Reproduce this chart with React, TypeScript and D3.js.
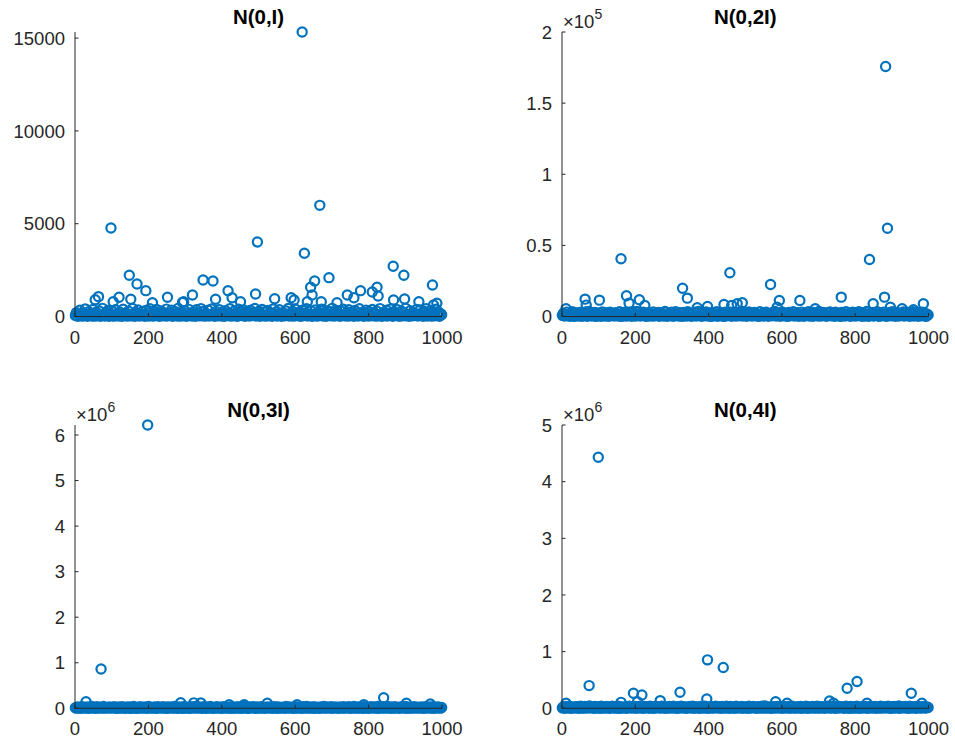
import React from 'react';
import * as d3 from 'd3';

// ---------- DATA ----------
const titles = ['N(0,I)', 'N(0,2I)', 'N(0,3I)', 'N(0,4I)'];
const xTicks = [0, 200, 400, 600, 800, 1000];
const yTicks1 = [0, 5000, 10000, 15000];
const yTicks2 = [0, 50000, 100000, 150000, 200000];
const yTicks3 = [0, 1e6, 2e6, 3e6, 4e6, 5e6, 6e6];
const yTicks4 = [0, 1e6, 2e6, 3e6, 4e6, 5e6];
const yTickLabels1 = ['0', '5000', '10000', '15000'];
const yTickLabels2 = ['0', '0.5', '1', '1.5', '2'];
const yTickLabels3 = ['0', '1', '2', '3', '4', '5', '6'];
const yTickLabels4 = ['0', '1', '2', '3', '4', '5'];
const exponents = ['', '5', '6', '6'];
const yMax = [15330, 200000, 6.22e6, 5e6];

// visible isolated points: [index, value]
const outliers1: [number, number][] = [
  [619, 15330], [667, 5990], [98, 4770], [497, 4018], [625, 3409], [867, 2707], [896, 2222],
  [148, 2222], [692, 2093], [349, 1969], [376, 1915], [653, 1915], [169, 1753], [974, 1699],
  [642, 1575], [823, 1575], [193, 1392], [778, 1392], [810, 1321], [417, 1392], [646, 1160],
  [826, 1106], [492, 1213], [320, 1160], [742, 1160], [64, 1070], [252, 1035], [120, 1035],
  [152, 928], [898, 944], [589, 1014], [428, 1014], [544, 960], [383, 928], [760, 1014],
  [104, 798], [986, 712], [937, 798], [714, 744], [671, 798], [211, 744], [296, 798],
  [597, 890], [451, 798], [977, 620], [633, 798], [868, 890], [55, 900], [293, 760],
];
const outliers2: [number, number][] = [
  [883, 175700], [888, 62000], [161, 40600], [839, 40100], [458, 30800], [569, 22500],
  [329, 19900], [342, 12900], [63, 12200], [102, 11500], [176, 14600], [211, 11800],
  [762, 13600], [880, 13600], [649, 11300], [593, 11300], [492, 9650], [478, 8950],
  [442, 8460], [986, 8950], [849, 8950], [183, 9400], [226, 7750], [11, 5400], [691, 5400],
  [928, 5400], [397, 7050], [369, 6100], [896, 6550], [959, 4700], [587, 6550], [66, 8000],
  [463, 7800],
];
const outliers3: [number, number][] = [
  [198, 6.22e6], [71, 863000], [841, 233000], [30, 145000], [288, 123000], [324, 120000],
  [343, 115000], [524, 110000], [903, 110000], [968, 95000], [420, 80000], [461, 80000],
  [605, 78000], [787, 80000],
];
const outliers4: [number, number][] = [
  [99, 4.43e6], [397, 855000], [440, 720000], [805, 472000], [778, 354000], [74, 401000],
  [322, 283000], [953, 265000], [195, 265000], [218, 236000], [395, 165000], [268, 135000],
  [730, 130000], [583, 117000], [206, 117000], [161, 105000], [741, 88000], [832, 88000],
  [614, 88000], [982, 88000], [11, 88000],
];

// dense near-zero points, evenly spread over the 1000 indices
const band1 = [
  60, 210, 15, 120, 340, 35, 90, 25, 180, 410, 50, 10, 260, 75, 140, 30, 380, 95, 20, 230,
  45, 160, 300, 15, 70, 440, 110, 25, 190, 55, 320, 10, 135, 85, 270, 40, 20, 360, 65, 150,
  30, 240, 100, 15, 395, 50, 175, 80, 20, 290, 125, 60, 35, 430, 145, 10, 205, 70, 350, 25,
  115, 45, 265, 90, 15, 330, 55, 195, 30, 420, 80, 135, 20, 250, 65, 375, 40, 160, 10, 305,
  85, 220, 35, 140, 400, 25, 75, 185, 50, 345, 15, 105, 275, 60, 30, 440, 125, 20, 215, 95,
  40, 315, 70, 15, 170, 385, 55, 130, 25, 245, 90, 10, 360, 65, 200, 35, 425, 110, 45, 280,
  20, 150, 75, 335, 30, 100, 405, 55, 190, 15, 260, 85, 40, 370, 120, 25, 230, 60, 10, 310,
  95, 45, 180, 415, 20, 140, 70, 295, 35, 165, 10, 390, 80, 225, 50, 130, 355, 15, 105, 265,
  60, 25, 340, 115, 45, 200, 435, 30, 155, 75, 285, 15, 120, 380, 55, 240, 20, 90, 325, 40,
  175, 65, 10, 410, 135, 50, 255, 25, 100, 365, 70, 15, 210, 145, 40, 300, 85, 430, 30, 160,
  55, 275, 20, 120, 395, 65, 185, 35, 240, 10, 340, 95, 50, 170, 420, 25, 130, 75, 290, 15,
  110, 45, 355, 80, 20, 225, 60, 145, 400, 30, 195, 90, 15, 310, 55, 125, 260, 35, 440, 70,
  25, 165, 330, 50, 105, 15, 280, 75, 390, 40, 140, 205, 20, 360, 85, 45, 250, 115, 10, 320,
  65, 185, 30, 415, 95, 55, 235, 15, 150, 345, 70, 25, 270, 120, 40, 380, 60, 175, 20, 295,
  100, 35, 425, 80, 15, 215, 130, 50, 335, 25, 160, 90, 405, 45, 10, 255, 110, 65, 370, 30,
  140, 20, 285, 75, 190, 40, 440, 55, 125, 15, 310, 95, 35, 230, 165, 60, 385, 25, 105, 350,
  50, 200, 15, 275, 85, 415, 30, 145, 65, 325, 20, 180, 110, 40, 395, 70, 245, 10, 155, 90,
];
// in hundreds
const band2Hundreds = [
  8, 22, 3, 15, 31, 5, 11, 2, 19, 34, 6, 1, 26, 9, 14, 4, 29, 12, 2, 24,
  5, 17, 33, 2, 8, 35, 13, 3, 21, 7, 28, 1, 16, 10, 25, 5, 2, 32, 7, 18,
  4, 27, 12, 2, 30, 6, 19, 9, 3, 26, 14, 7, 4, 34, 15, 1, 23, 8, 31, 3,
  13, 5, 29, 11, 2, 33, 6, 20, 4, 35, 9, 16, 3, 24, 7, 30, 5, 18, 1, 27,
  10, 23, 4, 15, 32, 3, 8, 21, 6, 28, 2, 12, 25, 7, 4, 35, 14, 2, 22, 11,
  5, 31, 8, 2, 18, 34, 6, 15, 3, 26, 10, 1, 29, 7, 21, 4, 33, 13, 5, 24,
  2, 17, 9, 30, 4, 12, 35, 6, 20, 2, 27, 10, 5, 32, 14, 3, 25, 7, 1, 28,
  11, 5, 19, 33, 2, 16, 8, 26, 4, 18, 1, 31, 9, 23, 6, 15, 30, 2, 12, 25,
  7, 3, 29, 13, 5, 22, 34, 4, 17, 9, 27, 2, 14, 32, 6, 24, 3, 10, 28, 5,
  19, 8, 1, 33, 15, 6, 25, 3, 11, 30, 8, 2, 22, 16, 5, 28, 10, 35, 4, 18,
  6, 26, 2, 14, 32, 7, 20, 4, 24, 1, 29, 11, 6, 19, 34, 3, 15, 9, 27, 2,
  12, 5, 31, 9, 2, 23, 7, 16, 33, 4, 21, 10, 2, 28, 6, 14, 25, 4, 35, 8,
  3, 18, 29, 6, 12, 2, 26, 9, 32, 5, 16, 22, 2, 30, 10, 5, 24, 13, 1, 28,
  8, 20, 4, 34, 11, 6, 23, 2, 17, 30, 8, 3, 26, 14, 5, 33, 7, 19, 2, 27,
  11, 4, 35, 9, 2, 22, 15, 6, 29, 3, 18, 10, 33, 5, 1, 25, 12, 8, 31, 4,
  16, 2, 27, 9, 21, 5, 34, 6, 14, 2, 28, 11, 4, 23, 18, 7, 32, 3, 12, 30,
  6, 21, 2, 26, 10, 33, 4, 16, 8, 29, 2, 20, 13, 5, 31, 8, 24, 1, 17, 11,
];
// in thousands
const band3Thousands = [
  12, 3, 28, 6, 18, 2, 35, 9, 22, 4, 15, 30, 2, 25, 7, 38, 11, 5, 20, 1,
  33, 8, 16, 26, 4, 13, 40, 7, 21, 3, 17, 31, 10, 5, 24, 14, 36, 1, 19, 8,
  29, 3, 12, 37, 6, 23, 1, 17, 32, 9, 2, 27, 13, 6, 39, 4, 19, 2, 26, 10,
  34, 3, 15, 23, 7, 31, 1, 18, 39, 5, 21, 9, 4, 29, 14, 1, 34, 7, 25, 16,
  3, 37, 11, 5, 22, 2, 32, 8, 20, 28, 3, 12, 40, 6, 16, 1, 30, 10, 24, 2,
  36, 8, 14, 27, 4, 18, 1, 33, 6, 21, 11, 38, 3, 15, 28, 5, 24, 1, 19, 35,
  9, 2, 30, 13, 7, 38, 5, 17, 1, 25, 11, 33, 4, 20, 7, 29, 2, 14, 36, 6,
  22, 9, 3, 27, 13, 1, 31, 8, 19, 4, 35, 12, 6, 23, 2, 17, 39, 4, 26, 10,
  2, 31, 8, 15, 34, 5, 22, 1, 29, 9, 18, 3, 37, 12, 6, 25, 1, 20, 32, 5,
  16, 28, 2, 11, 37, 7, 23, 2, 32, 9, 18, 4, 26, 13, 6, 39, 3, 16, 30, 10,
  5, 24, 1, 14, 36, 8, 20, 3, 27, 11, 2, 33, 6, 18, 40, 4, 13, 29, 7, 21,
  1, 35, 10, 4, 25, 15, 2, 31, 7, 19, 38, 3, 12, 27, 5, 22, 9, 34, 2, 17,
  11, 30, 4, 20, 1, 28, 14, 6, 37, 3, 23, 9, 16, 33, 2, 26, 8, 13, 39, 5,
  19, 3, 32, 7, 24, 12, 1, 36, 10, 5, 27, 15, 2, 21, 34, 6, 17, 29, 4, 9,
  38, 2, 14, 25, 7, 31, 3, 18, 11, 40, 5, 22, 1, 29, 13, 8, 35, 4, 20, 16,
  2, 27, 9, 33, 6, 17, 38, 1, 24, 12, 4, 30, 8, 19, 36, 3, 15, 26, 7, 11,
  31, 5, 21, 2, 37, 10, 16, 28, 3, 23, 8, 35, 1, 14, 26, 6, 32, 12, 4, 18,
];
// in thousands
const band4Thousands = [
  8, 25, 2, 33, 14, 5, 38, 11, 1, 22, 17, 4, 30, 9, 27, 1, 19, 36, 6, 13,
  3, 31, 10, 24, 4, 40, 15, 7, 21, 1, 34, 12, 5, 28, 18, 1, 37, 8, 23, 3,
  16, 32, 6, 26, 2, 20, 39, 9, 4, 29, 14, 1, 35, 11, 2, 25, 17, 5, 30, 8,
  1, 22, 38, 12, 4, 27, 15, 6, 33, 3, 19, 10, 36, 5, 24, 1, 31, 9, 16, 26,
  2, 39, 13, 6, 21, 1, 34, 10, 18, 29, 3, 13, 37, 7, 23, 2, 28, 11, 4, 32,
  16, 3, 21, 35, 7, 14, 1, 27, 11, 4, 38, 17, 6, 30, 8, 2, 24, 13, 33, 5,
  19, 36, 2, 10, 27, 7, 15, 1, 31, 9, 22, 3, 39, 12, 5, 25, 1, 18, 34, 9,
  3, 21, 37, 12, 4, 28, 15, 1, 32, 7, 18, 5, 35, 10, 23, 2, 31, 13, 6, 26,
  2, 39, 16, 4, 20, 11, 34, 1, 25, 14, 8, 29, 2, 37, 11, 5, 20, 32, 7, 16,
  1, 28, 9, 23, 3, 35, 13, 6, 40, 8, 18, 3, 26, 14, 1, 30, 7, 22, 4, 33,
  12, 5, 27, 17, 2, 36, 9, 21, 4, 31, 14, 1, 24, 38, 6, 19, 11, 3, 29, 15,
  7, 34, 2, 22, 13, 5, 39, 10, 1, 26, 17, 4, 32, 8, 20, 3, 37, 12, 6, 28,
  4, 18, 30, 1, 24, 9, 35, 14, 3, 21, 7, 40, 11, 2, 27, 16, 5, 33, 9, 19,
  25, 2, 13, 38, 6, 20, 1, 31, 10, 4, 28, 15, 3, 36, 8, 23, 1, 17, 30, 5,
  14, 33, 7, 2, 26, 11, 38, 4, 19, 9, 31, 1, 22, 14, 6, 35, 3, 24, 12, 28,
  5, 20, 37, 8, 1, 29, 15, 3, 34, 10, 23, 6, 40, 2, 17, 27, 7, 12, 32, 4,
  21, 1, 36, 11, 25, 5, 18, 30, 2, 14, 39, 8, 26, 3, 16, 33, 9, 4, 22, 13,
];
const bandUnits = [1, 100, 1000, 1000];

// ---------- LAYOUT ----------
const W = 955;
const H = 745;
const colX = [[75, 442], [562, 928.5]];
const rowY = [[316.5, 32], [708.3, 425]];
const COLOR = '#0072BD';
const AXIS = '#262626';
const FONT = '"Liberation Sans", Arial, Helvetica, sans-serif';

const panels = [
  { band: band1, out: outliers1, yt: yTicks1, yl: yTickLabels1 },
  { band: band2Hundreds, out: outliers2, yt: yTicks2, yl: yTickLabels2 },
  { band: band3Thousands, out: outliers3, yt: yTicks3, yl: yTickLabels3 },
  { band: band4Thousands, out: outliers4, yt: yTicks4, yl: yTickLabels4 },
];

function Panel({ i }: { i: number }) {
  const p = panels[i];
  const [x0, x1] = colX[i % 2];
  const [y0, y1] = rowY[Math.floor(i / 2)];
  const x = d3.scaleLinear().domain([0, 1000]).range([x0, x1]);
  const y = d3.scaleLinear().domain([0, yMax[i]]).range([y0, y1]);
  const n = p.band.length;
  const pts: [number, number][] = p.band.map(
    (v, j) => [Math.round(((j + 0.5) * 1000) / n), v * bandUnits[i]] as [number, number]
  );
  const all = pts.concat(p.out).sort((a, b) => a[0] - b[0]);
  const cx = (x0 + x1) / 2;
  return (
    <g>
      {all.map((d, j) => (
        <circle key={j} cx={x(d[0])} cy={y(d[1])} r={4.6} fill="none" stroke={COLOR} strokeWidth={2.2} />
      ))}
      <line x1={x0} x2={x0} y1={y0} y2={y1} stroke={AXIS} strokeWidth={1} />
      <line x1={x0} x2={x1} y1={y0} y2={y0} stroke={AXIS} strokeWidth={1} />
      {p.yt.map((t, j) => (
        <g key={'y' + j}>
          <line x1={x0} x2={x0 + 3.5} y1={y(t)} y2={y(t)} stroke={AXIS} strokeWidth={1} />
          <text x={x0 - 10} y={y(t)} dy="0.36em" textAnchor="end" fontSize={18.5} fill={AXIS} fontFamily={FONT}>
            {p.yl[j]}
          </text>
        </g>
      ))}
      {xTicks.map((t, j) => (
        <g key={'x' + j}>
          <line x1={x(t)} x2={x(t)} y1={y0} y2={y0 - 3.5} stroke={AXIS} strokeWidth={1} />
          <text x={x(t)} y={y0 + 27} textAnchor="middle" fontSize={18.5} fill={AXIS} fontFamily={FONT}>
            {t}
          </text>
        </g>
      ))}
      <text x={cx} y={y1 - 8} textAnchor="middle" fontSize={20.5} fontWeight="bold" fill="#000" fontFamily={FONT}>
        {titles[i]}
      </text>
      {exponents[i] && (
        <text x={x0 + 1} y={y1 - 4} fontSize={18.5} fill={AXIS} fontFamily={FONT}>
          ×10
          <tspan dy={-9} fontSize={14}>{exponents[i]}</tspan>
        </text>
      )}
    </g>
  );
}

export default function App() {
  return (
    <svg width={W} height={H} style={{ position: 'absolute', left: 0, top: 0, background: '#fff' }}>
      <rect width={W} height={H} fill="#fff" />
      {[0, 1, 2, 3].map((i) => (
        <Panel key={i} i={i} />
      ))}
    </svg>
  );
}
